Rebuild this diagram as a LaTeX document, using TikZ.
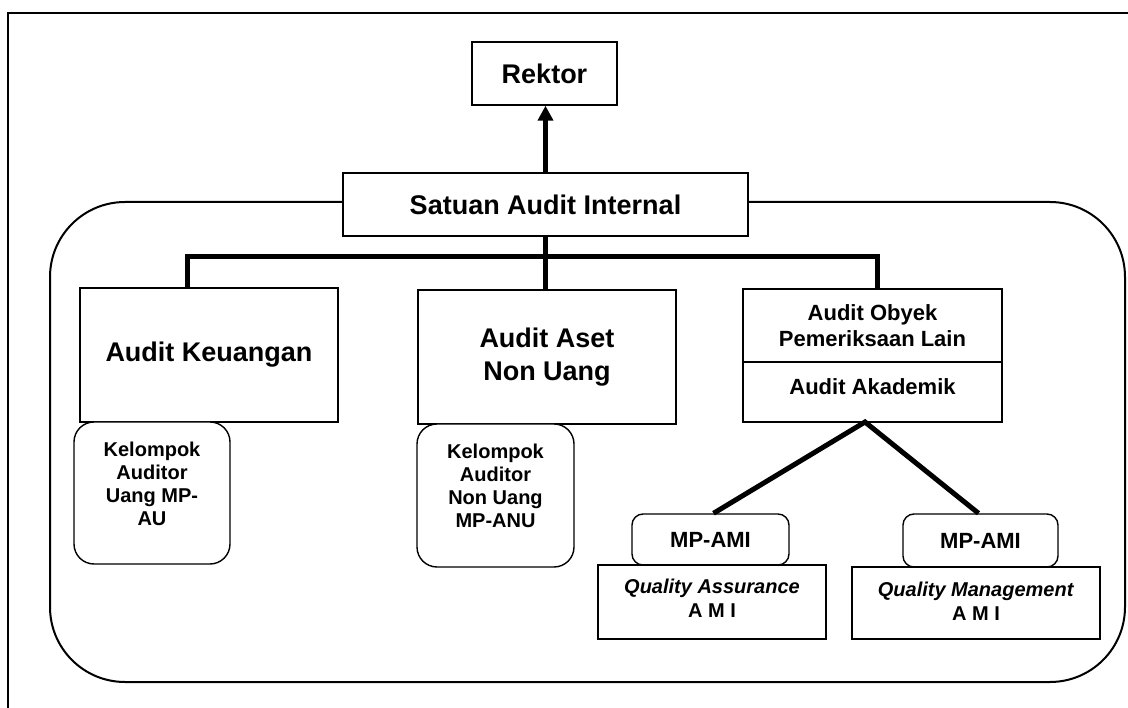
\documentclass[tikz,border=0pt]{standalone}
\usepackage{fontspec}
\setmainfont{Liberation Sans}
\usetikzlibrary{arrows.meta}
\begin{document}
\begin{tikzpicture}[x=1pt,y=-1pt,
  box/.style={draw, line width=1.4pt, fill=white, inner sep=0pt, align=center},
  rbox/.style={box, rounded corners=20pt},
  sbox/.style={box, rounded corners=11pt},
  conn/.style={line width=5pt, line join=miter},
  fbig/.style={font=\fontsize{27}{33}\selectfont\bfseries},
  fmid/.style={font=\fontsize{22}{26}\selectfont\bfseries},
  fsmall/.style={font=\fontsize{20}{23}\selectfont\bfseries},
  txt/.style={inner sep=0pt, align=center},
]
\useasboundingbox (0,0) rectangle (1128,708);

% page frame (open to the right and bottom)
\draw[line width=1.8pt] (8,708) -- (8,13) -- (1128,13);

% rounded container of the internal audit unit
\draw[line width=2pt, rounded corners=75pt] (50,202) rectangle (1125,682);

% top level
\node[box, fbig, minimum width=145pt, minimum height=63pt] (rek) at (544.5,73.5) {Rektor};
\node[box, fbig, minimum width=405pt, minimum height=63pt] (sai) at (545.5,204.5) {Satuan Audit Internal};

% audit divisions
\node[box, fbig, minimum width=258pt, minimum height=134pt] (keu) at (209,355) {Audit Keuangan};
\node[box, fbig, minimum width=258pt, minimum height=134pt] (aset) at (547,357) {Audit Aset\\Non Uang};
\node[box, fmid, minimum width=259pt, minimum height=73pt] (obyek) at (872.5,325.5) {Audit Obyek\\Pemeriksaan Lain};
\node[box, minimum width=259pt, minimum height=60pt] (akad) at (872.5,392) {};
\node[txt, fmid] (akad-t) at ([yshift=5pt]akad.center) {Audit Akademik};

% auditor groups
\node[rbox, minimum width=156pt, minimum height=142pt] (au) at (152,493) {};
\node[txt, fsmall] (au-t) at ([yshift=9pt]au.center) {Kelompok\\Auditor\\Uang MP-\\AU};
\node[rbox, minimum width=157pt, minimum height=143pt] (anu) at (495.5,495.5) {};
\node[txt, fsmall] (anu-t) at ([yshift=10pt]anu.center) {Kelompok\\Auditor\\Non Uang\\MP-ANU};

% academic audit groups
\node[sbox, fmid, minimum width=157pt, minimum height=51pt] (mpl) at (710.5,539.5) {MP-AMI};
\node[box, minimum width=228pt, minimum height=74pt] (qa) at (712,602) {};
\node[txt, fsmall] (qa-t) at ([yshift=4pt]qa.center) {\textit{Quality Assurance}\\[1pt]A M I};
\node[sbox, fmid, minimum width=155pt, minimum height=53pt] (mpr) at (980.5,540.5) {MP-AMI};
\node[box, minimum width=248pt, minimum height=72pt] (qm) at (976,603) {};
\node[txt, fsmall] (qm-t) at ([yshift=2pt]qm.center) {\textit{Quality Management}\\[1pt]A M I};

% reporting line
\draw[conn, -{Triangle[width=15pt,length=15pt]}] (sai.north) -- (sai.north |- rek.south);

% distribution bar
\coordinate (jL) at (187,257);
\coordinate (jR) at (877,257);
\draw[conn] (jL |- keu.north) -- (jL) -- (jR) -- (jR |- obyek.north);
\draw[conn] (sai.south) -- (sai.south |- aset.north);

% branches of the academic audit
\coordinate (apex) at (865,422);
\draw[conn] ([xshift=3pt]mpl.north) -- (apex) -- ([xshift=-2pt]mpr.north);
\end{tikzpicture}
\end{document}
